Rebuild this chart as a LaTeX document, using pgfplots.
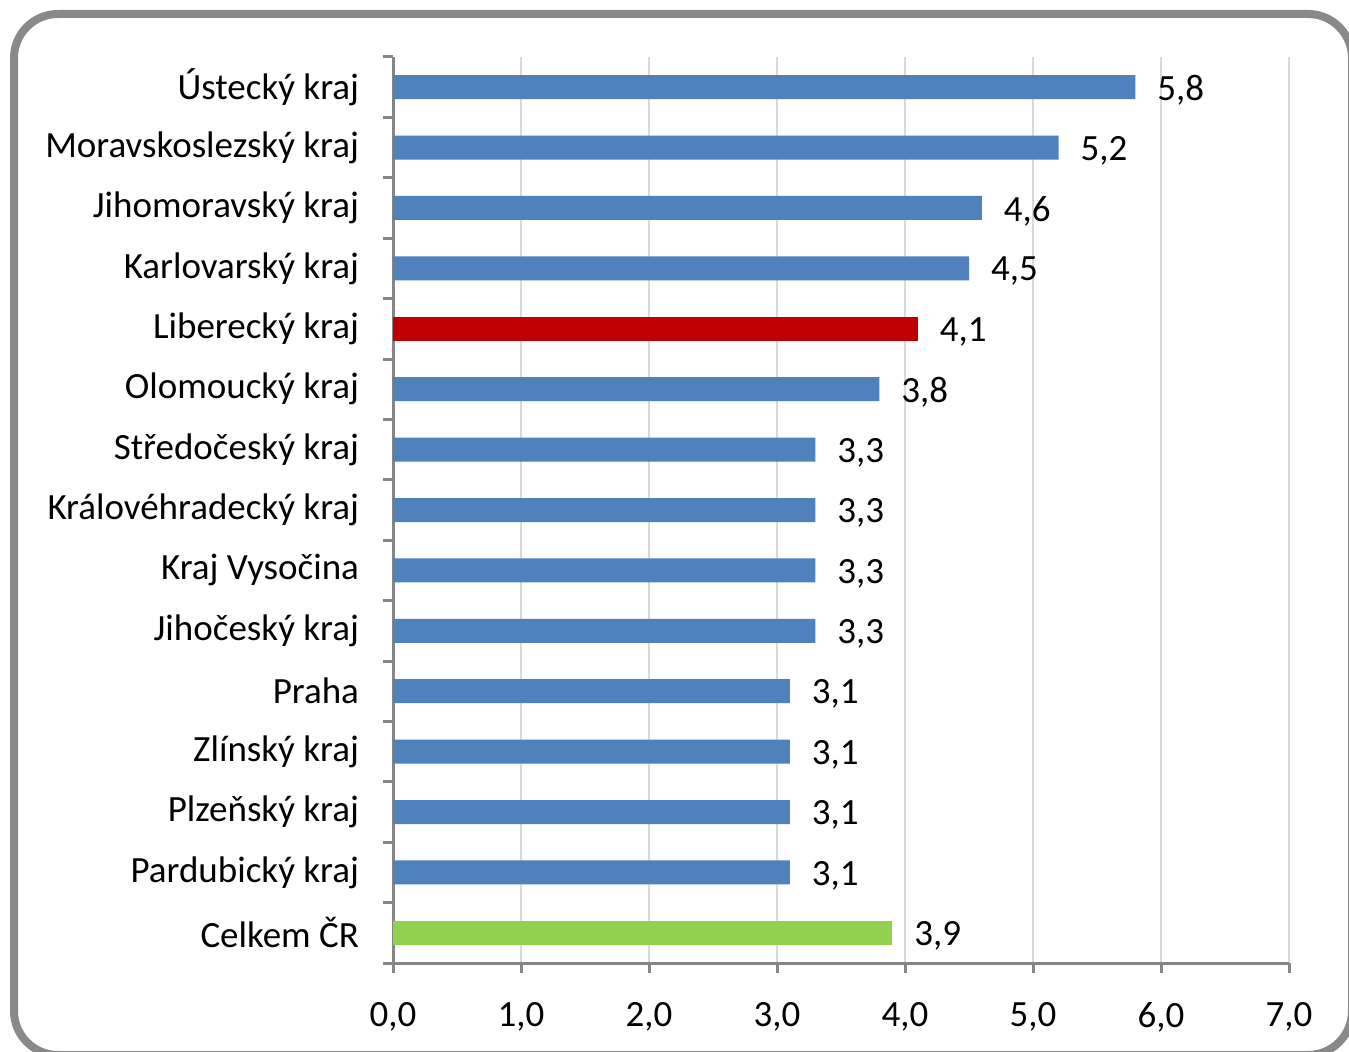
\documentclass[border=0pt]{standalone}
\usepackage{pgfplots}
\pgfplotsset{compat=1.18}
\usepackage{fontspec}
\setmainfont{Carlito}
\definecolor{barblue}{HTML}{4F81BD}
\definecolor{barred}{HTML}{C00000}
\definecolor{bargreen}{HTML}{92D050}
\definecolor{axgray}{HTML}{868686}
\definecolor{gridgray}{HTML}{D9D9D9}
\definecolor{framegray}{HTML}{898989}
\begin{document}
\begin{tikzpicture}
\useasboundingbox (0,0) rectangle (674.5pt,525.5pt);
\clip (0,0) rectangle (674.5pt,525.5pt);
\fill[white] (0,0) rectangle (674.5pt,525.5pt);
\draw[framegray, line width=4pt, rounded corners=22pt] (7pt,-2pt) rectangle (676pt,518.5pt);
\begin{axis}[
  at={(196.5pt,44pt)}, anchor=south west,
  scale only axis, width=448pt, height=453pt,
  xmin=0, xmax=7, ymin=-0.5, ymax=14.5,
  axis x line*=bottom, axis y line*=left,
  axis line style={axgray, line width=1.5pt, -},
  xtick={0,...,7},
  xmajorgrids, grid style={gridgray, line width=0.8pt},
  tick style={axgray, line width=1.5pt},
  tick align=outside,
  major tick length=5pt,
  ytick={-0.5,0.5,...,14.5},
  yticklabels={,,},
  extra y ticks={0,...,14},
  extra y tick labels={Celkem ČR,Pardubický kraj,Plzeňský kraj,Zlínský kraj,Praha,Jihočeský kraj,Kraj Vysočina,Královéhradecký kraj,Středočeský kraj,Olomoucký kraj,Liberecký kraj,Karlovarský kraj,Jihomoravský kraj,Moravskoslezský kraj,Ústecký kraj},
  extra y tick style={tick style={draw=none}, yticklabel style={xshift=-8.5pt}},
  ticklabel style={font=\fontsize{18.5}{22}\selectfont},
  xticklabel style={yshift=-11pt, /pgf/number format/.cd, fixed, fixed zerofill, precision=1, use comma, assume math mode=true},
  xbar, bar width=12pt, bar shift=0pt,
  nodes near coords,
  nodes near coords style={font=\fontsize{18.5}{22}\selectfont, xshift=7.5pt, yshift=-1.5pt, /pgf/number format/.cd, fixed, fixed zerofill, precision=1, use comma, assume math mode=true},
  clip=false,
]
\addplot[draw=none, fill=barblue] coordinates {
 (3.1,1) (3.1,2) (3.1,3) (3.1,4) (3.3,5) (3.3,6) (3.3,7) (3.3,8) (3.8,9) (4.5,11) (4.6,12) (5.2,13) (5.8,14)};
\addplot[draw=none, fill=barred] coordinates {(4.1,10)};
\addplot[draw=none, fill=bargreen] coordinates {(3.9,0)};
\end{axis}
\end{tikzpicture}
\end{document}
